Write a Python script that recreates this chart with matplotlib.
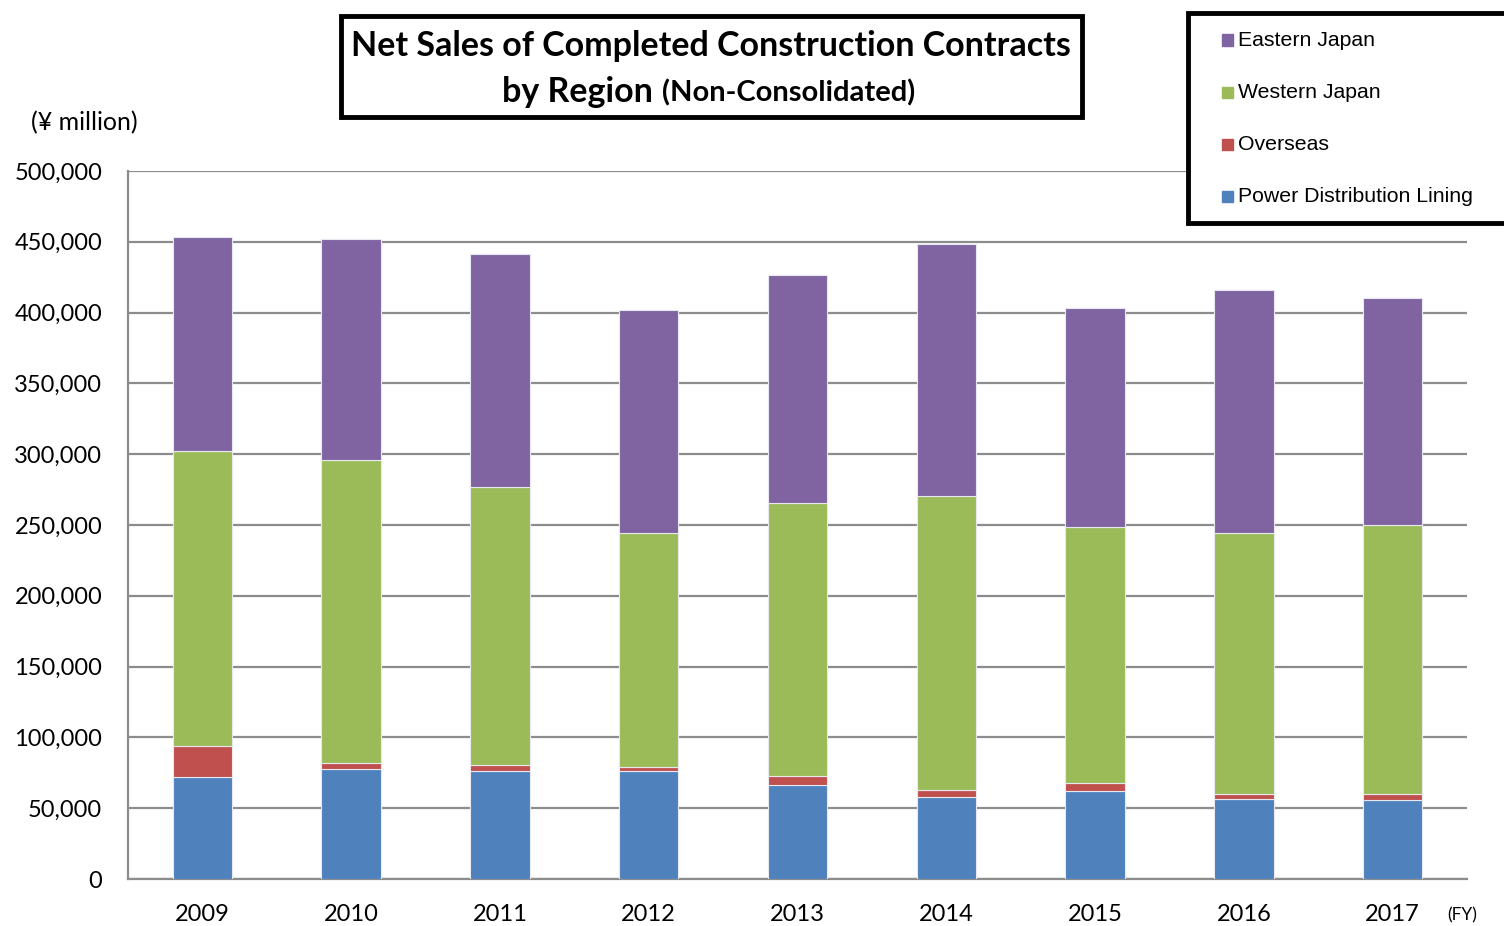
import numpy as np
import matplotlib.pyplot as plt
from matplotlib.patches import Rectangle

# values in ¥ million
years = ['2009', '2010', '2011', '2012', '2013', '2014', '2015', '2016', '2017']
power_dist = [72000, 77700, 76300, 76300, 66400, 57900, 62100, 56500, 55800]
overseas = [21900, 4200, 4200, 2800, 6300, 5000, 5700, 3500, 4200]
western = [208400, 214000, 196300, 165300, 192800, 207600, 180800, 184400, 190000]
eastern = [151100, 156100, 164600, 157400, 161100, 177900, 154600, 171600, 160300]

series = [
    ('Power Distribution Lining', power_dist, '#4F81BD'),
    ('Overseas', overseas, '#C0504D'),
    ('Western Japan', western, '#9BBB59'),
    ('Eastern Japan', eastern, '#8064A2'),
]

fig = plt.figure(figsize=(15.04, 9.26), dpi=100)
ax = fig.add_axes([128/1504, 47/926, 1339/1504, 708/926])

x = np.arange(len(years))
bottom = np.zeros(len(years))
for name, vals, col in series:
    ax.bar(x, vals, 0.40, bottom=bottom, color=col, edgecolor='#e8e8f0',
           linewidth=0.8, zorder=3)
    bottom += np.array(vals)

ax.set_xlim(-0.5, len(years) - 0.5)
ax.set_ylim(0, 500000)
ax.set_yticks(np.arange(0, 500001, 50000))
ax.set_yticklabels([f'{v:,}' for v in range(0, 500001, 50000)],
                   fontsize=17, family='Lato')
ax.set_xticks(x)
ax.set_xticklabels(years, fontsize=17, family='Lato')
ax.tick_params(length=0, pad=18.5, axis='y')
ax.tick_params(length=0, pad=18, axis='x')
ax.grid(axis='y', color='#8c8c8c', linewidth=1.6, zorder=0)
for s in ['top', 'right']:
    ax.spines[s].set_visible(False)
for s in ['left', 'bottom']:
    ax.spines[s].set_color('#8c8c8c')
    ax.spines[s].set_linewidth(1.6)

# title box
fig.patches.append(Rectangle((341/1504, 1 - 117/926), 741/1504, 101/926,
                             transform=fig.transFigure, fill=False,
                             edgecolor='black', linewidth=3.5))
fig.text(711/1504, 1 - 46/926, 'Net Sales of Completed Construction Contracts',
         ha='center', va='center', fontsize=24.5, fontweight='bold', family='Lato')
fig.text(653/1504, 1 - 92/926, 'by Region', ha='right', va='center',
         fontsize=24.5, fontweight='bold', family='Lato')
fig.text(662/1504, 1 - 93/926, '(Non-Consolidated)', ha='left', va='center',
         fontsize=21, fontweight='bold', family='Lato')

fig.text(84/1504, 1 - 123/926, '(¥ million)', ha='center', va='center',
         fontsize=18, family='Lato')
fig.text(1462/1504, 1 - 915/926, '(FY)', ha='center', va='center',
         fontsize=12.5, family='Lato')

# legend box
fig.patches.append(Rectangle((1188/1504, 1 - 223/926), 330/1504, 210/926,
                             transform=fig.transFigure, fill=True,
                             facecolor='white', edgecolor='black', linewidth=3.5,
                             zorder=5))
leg_order = ['Eastern Japan', 'Western Japan', 'Overseas', 'Power Distribution Lining']
colors = {n: c for n, _, c in series}
for i, name in enumerate(leg_order):
    yy = 1 - (40 + i * 52.3) / 926
    fig.patches.append(Rectangle((1222/1504, yy - 5.5/926), 11/1504, 11/926,
                                 transform=fig.transFigure, color=colors[name],
                                 zorder=6))
    fig.text(1238/1504, yy, name, ha='left', va='center', fontsize=15.3,
             family='Liberation Sans', zorder=7)

fig.savefig('out.png', dpi=100)
